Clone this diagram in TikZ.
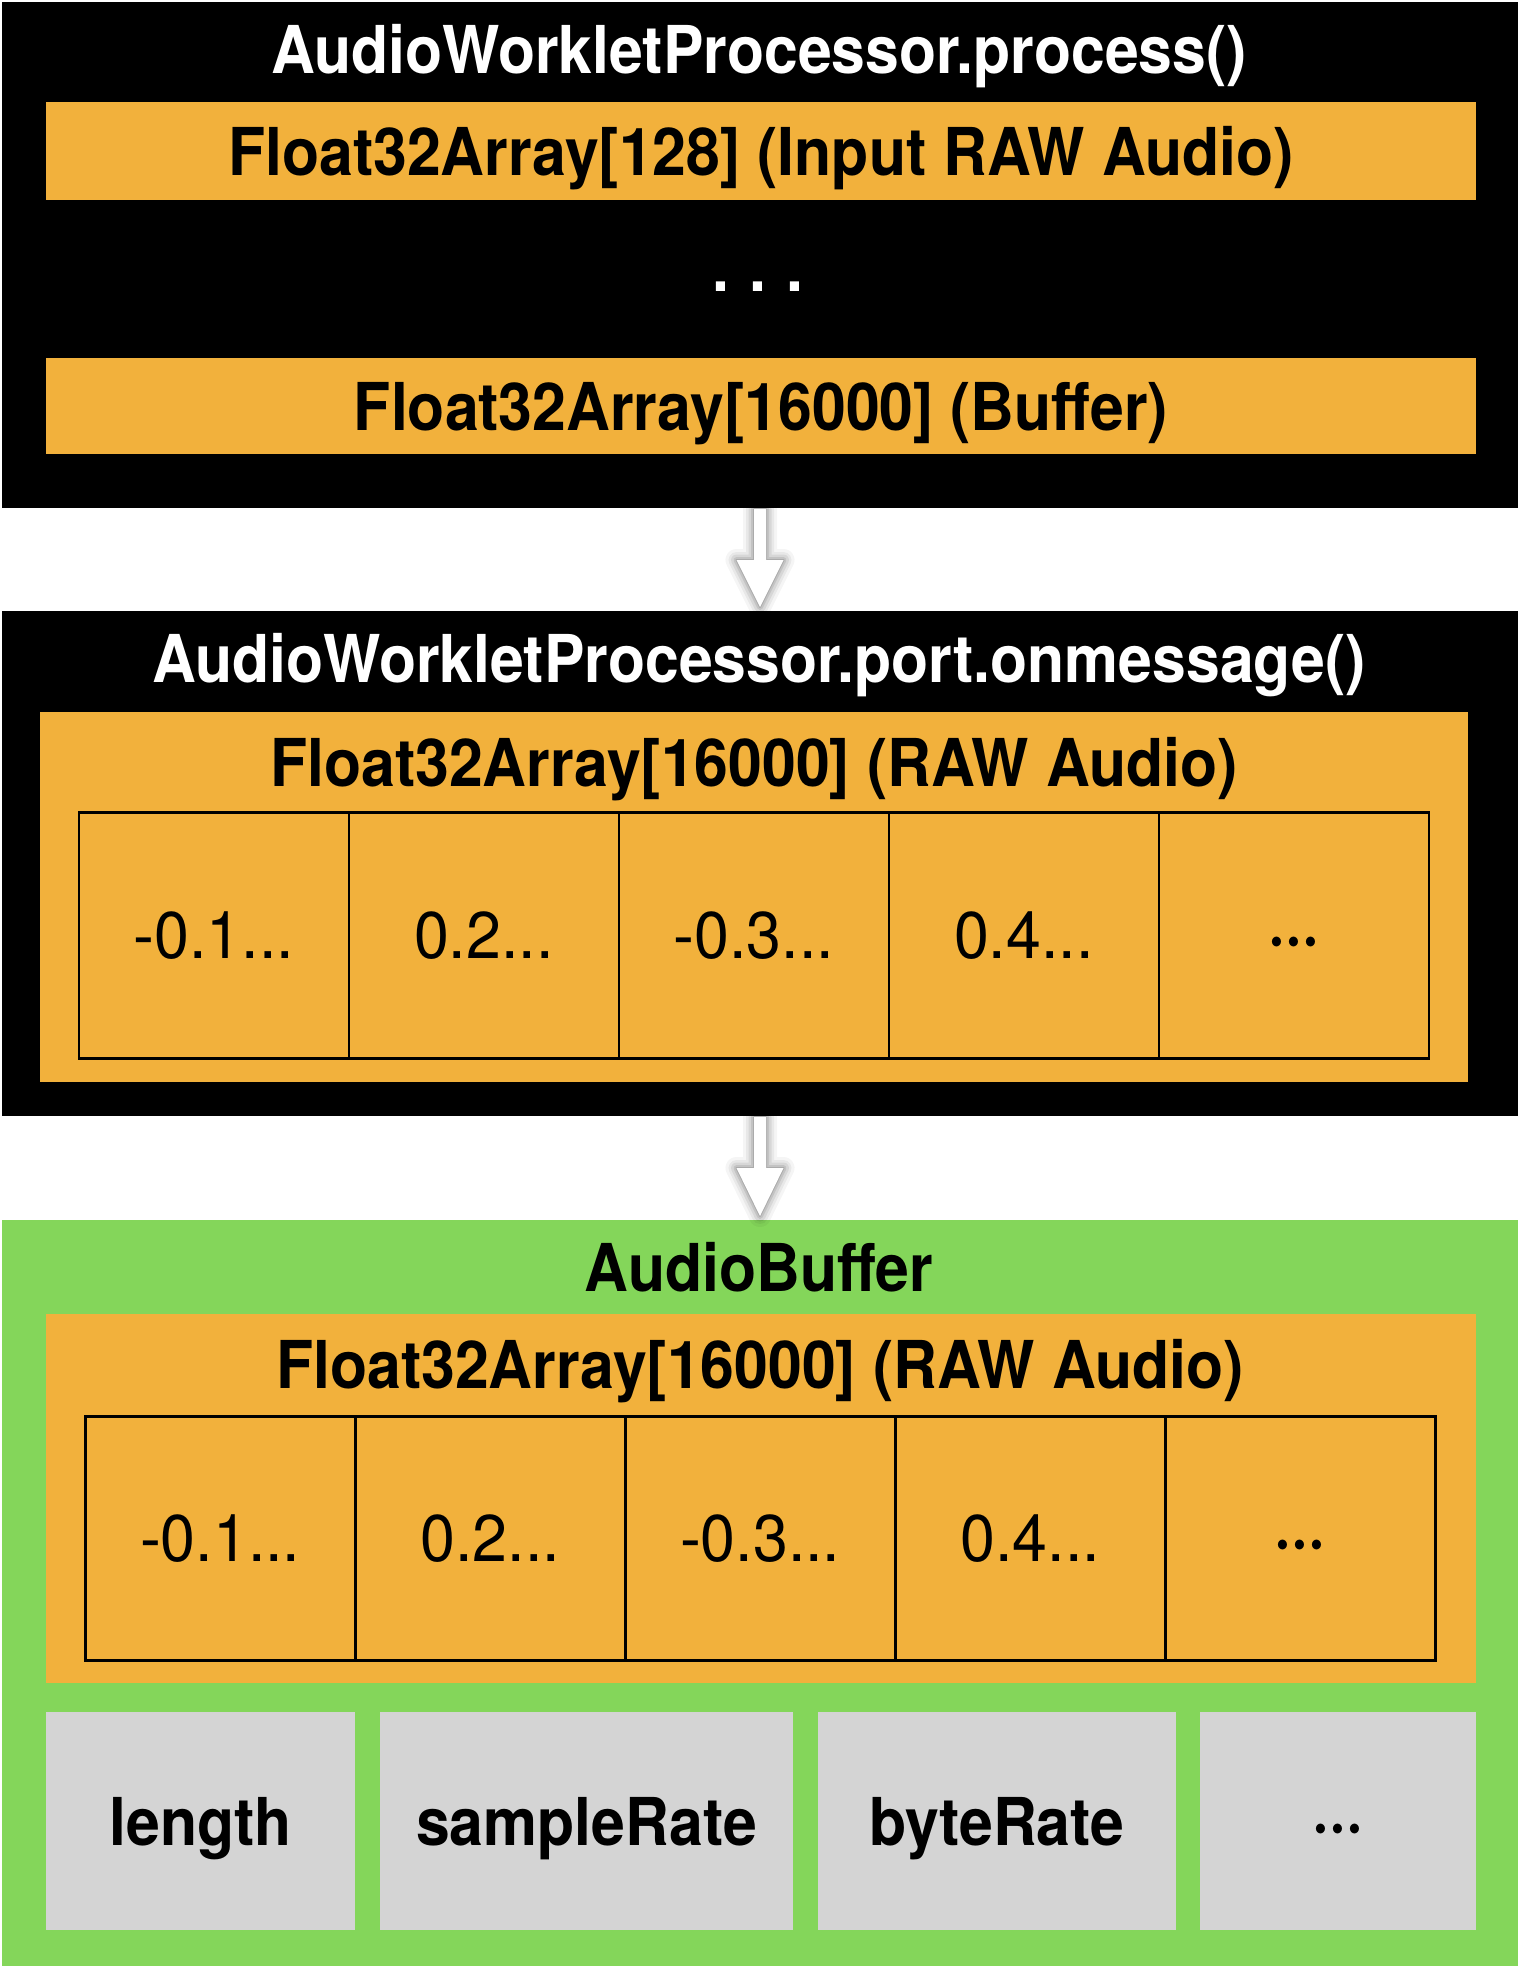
\documentclass[tikz,border=0pt]{standalone}
\usepackage{fontspec}
\setmainfont{TeX Gyre Heros}
\newfontfamily\medfont[FakeStretch=0.92]{TeX Gyre Heros}
\newfontfamily\regfont[FakeStretch=0.95]{TeX Gyre Heros}
\usetikzlibrary{calc}
\definecolor{panelorange}{HTML}{F2B13C}
\definecolor{panelgreen}{HTML}{84D65A}
\definecolor{propgray}{HTML}{D4D4D4}
\newcommand\flowarrowshape[3]{%
  \path[#1] ($(#2.south)+(-6,1)$) -- ($(#2.south)+(6,1)$) -- ($(#2.south)+(6,52)$)
    -- ($(#2.south)+(23.5,52)$) -- ($(#3.north)+(0,-4)$) -- ($(#2.south)+(-23.5,52)$)
    -- ($(#2.south)+(-6,52)$) -- cycle;}
\newcommand\flowarrow[2]{%
  \foreach \w/\o in {22/0.04,16/0.05,11/0.07,6/0.09,2/0.12}{%
    \flowarrowshape{draw=black, line width=\w pt, opacity=\o, line join=round, shift={(3,3)}}{#1}{#2}}%
  \flowarrowshape{fill=white}{#1}{#2}}
\begin{document}
\begin{tikzpicture}[x=1pt,y=-1pt,
  panel/.style={rectangle, inner sep=0pt, outer sep=0pt, anchor=north west, draw=none},
  medtxt/.style={font=\medfont\bfseries\fontsize{66pt}{70pt}\selectfont},
  regtxt/.style={font=\regfont\fontsize{66pt}{70pt}\selectfont},
  label/.style={medtxt, anchor=base, inner sep=0pt, outer sep=0pt},
  bar/.style={panel, fill=panelorange, minimum width=1430pt, medtxt, text height=48pt, text depth=0pt},
  cell/.style={rectangle, draw=black, line width=2.5pt, anchor=north west, inner sep=0pt,
     minimum width=270pt, regtxt, text height=47pt, text depth=0pt},
  celldots/.style={cell, medtxt},
  prop/.style={panel, fill=propgray, minimum height=218pt, medtxt, text height=48pt, text depth=0pt}
]
\useasboundingbox (0,0) rectangle (1520,1968);
\fill[white] (0,0) rectangle (1520,1968);

% --- AudioWorkletProcessor.process()
\node[panel, fill=black, minimum width=1516pt, minimum height=506pt] (proc) at (2,2) {};
\node[label, text=white] (proctitle) at (759,73) {AudioWorkletProcessor.process()};
\node[bar, minimum height=98pt] (inbar) at (46,102) {Float32Array[128] (Input RAW Audio)};
\node[label, text=white] (dots) at (758,291) {.\hspace{20pt}.\hspace{20pt}.};
\node[bar, minimum height=96pt] (bufbar) at (46,358) {Float32Array[16000] (Buffer)};

% --- AudioWorkletProcessor.port.onmessage()
\node[panel, fill=black, minimum width=1516pt, minimum height=505pt] (msg) at (2,611) {};
\node[label, text=white] (msgtitle) at (759,682) {AudioWorkletProcessor.port.onmessage()};
\node[panel, fill=panelorange, minimum width=1428pt, minimum height=370pt] (msgarr) at (40,712) {};
\node[label] (msgarrtitle) at (754,786) {Float32Array[16000] (RAW Audio)};
\node[cell, minimum height=246pt] (m1) at (77.5,811) {-0.1...};
\node[cell, minimum height=246pt] (m2) at (347.5,811) {0.2...};
\node[cell, minimum height=246pt] (m3) at (617.5,811) {-0.3...};
\node[cell, minimum height=246pt] (m4) at (887.5,811) {0.4...};
\node[celldots, minimum height=246pt] (m5) at (1157.5,811) {···};

% --- AudioBuffer
\node[panel, fill=panelgreen, minimum width=1516pt, minimum height=746pt] (abuf) at (2,1220) {};
\node[label] (abuftitle) at (759,1291) {AudioBuffer};
\node[panel, fill=panelorange, minimum width=1430pt, minimum height=369pt] (abarr) at (46,1314) {};
\node[label] (abarrtitle) at (760,1388) {Float32Array[16000] (RAW Audio)};
\node[cell, minimum height=244pt] (b1) at (84,1415) {-0.1...};
\node[cell, minimum height=244pt] (b2) at (354,1415) {0.2...};
\node[cell, minimum height=244pt] (b3) at (624,1415) {-0.3...};
\node[cell, minimum height=244pt] (b4) at (894,1415) {0.4...};
\node[celldots, minimum height=244pt] (b5) at (1164,1415) {···};
\node[prop, minimum width=309pt] (g1) at (46,1712) {length};
\node[prop, minimum width=413pt] (g2) at (380,1712) {sampleRate};
\node[prop, minimum width=358pt] (g3) at (818,1712) {byteRate};
\node[prop, minimum width=276pt] (g4) at (1200,1712) {···};

% --- arrows
\flowarrow{proc}{msg}
\flowarrow{msg}{abuf}
\end{tikzpicture}
\end{document}
